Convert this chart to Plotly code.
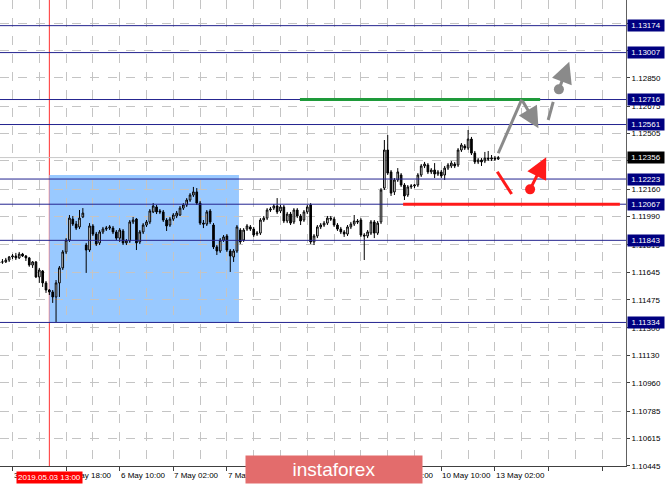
import plotly.graph_objects as go

# ---------------- data (EURUSD H1, hour index 0 = 3 May 02:00) ----------------
first_index = -4
opens = [
    1.11703, 1.11709, 1.11709, 1.11721, 1.11740, 1.11746, 1.11734, 1.11758, 1.11746, 1.11734,
    1.11690, 1.11709, 1.11616, 1.11653, 1.11579, 1.11535, 1.11523, 1.11492, 1.11579, 1.11672,
    1.11771, 1.11845, 1.11975, 1.11944, 1.11926, 1.11988, 1.11814, 1.11783, 1.11932, 1.11882,
    1.11827, 1.11895, 1.11913, 1.11919, 1.11919, 1.11895, 1.11857, 1.11901, 1.11827, 1.11839,
    1.11957, 1.11975, 1.11833, 1.11895, 1.11938, 1.11957, 1.12019, 1.12050, 1.12025, 1.12019,
    1.11969, 1.11938, 1.11975, 1.11994, 1.12000, 1.12043, 1.12062, 1.12093, 1.12124, 1.12143,
    1.12074, 1.11950, 1.11944, 1.12025, 1.11938, 1.11802, 1.11777, 1.11845, 1.11870, 1.11777,
    1.11740, 1.11777, 1.11907, 1.11845, 1.11913, 1.11926, 1.11913, 1.11882, 1.11888, 1.11969,
    1.11981, 1.12031, 1.12043, 1.12056, 1.12025, 1.12050, 1.11963, 1.12006, 1.11957, 1.12031,
    1.11994, 1.11969, 1.12019, 1.12062, 1.11833, 1.11870, 1.11926, 1.11938, 1.11950, 1.11981,
    1.11975, 1.11938, 1.11913, 1.11895, 1.11882, 1.11926, 1.11944, 1.11963, 1.11969, 1.11876,
    1.11870, 1.11888, 1.11957, 1.11888, 1.11957, 1.12167, 1.12403, 1.12267, 1.12143, 1.12217,
    1.12248, 1.12186, 1.12124, 1.12174, 1.12180, 1.12186, 1.12248, 1.12304, 1.12310, 1.12267,
    1.12279, 1.12254, 1.12267, 1.12248, 1.12291, 1.12304, 1.12316, 1.12310, 1.12403, 1.12428,
    1.12415, 1.12471, 1.12384, 1.12329, 1.12341, 1.12335, 1.12353, 1.12347, 1.12353, 1.12347,
]
highs = [
    1.11721, 1.11727, 1.11734, 1.11746, 1.11758, 1.11765, 1.11771, 1.11765, 1.11752, 1.11740,
    1.11715, 1.11715, 1.11672, 1.11659, 1.11591, 1.11541, 1.11535, 1.11597, 1.11684, 1.11783,
    1.11857, 1.12000, 1.11994, 1.11963, 1.12031, 1.12043, 1.11827, 1.11950, 1.11944, 1.11895,
    1.11907, 1.11926, 1.11932, 1.11938, 1.11932, 1.11907, 1.11919, 1.11913, 1.11851, 1.11969,
    1.11988, 1.11981, 1.11907, 1.11950, 1.11969, 1.12037, 1.12074, 1.12062, 1.12037, 1.12031,
    1.11981, 1.11988, 1.12012, 1.12025, 1.12056, 1.12074, 1.12105, 1.12136, 1.12174, 1.12167,
    1.12087, 1.11969, 1.12031, 1.12037, 1.11950, 1.11814, 1.11857, 1.11876, 1.11882, 1.11789,
    1.11789, 1.11938, 1.11919, 1.11919, 1.11944, 1.11938, 1.11926, 1.11901, 1.11981, 1.11994,
    1.12043, 1.12050, 1.12068, 1.12105, 1.12062, 1.12062, 1.12019, 1.12019, 1.12043, 1.12043,
    1.12006, 1.12031, 1.12062, 1.12074, 1.11882, 1.11938, 1.11950, 1.11963, 1.11994, 1.11994,
    1.11988, 1.11950, 1.11926, 1.11907, 1.11938, 1.11957, 1.12000, 1.11975, 1.11981, 1.11888,
    1.11907, 1.11969, 1.11969, 1.11963, 1.12167, 1.12465, 1.12496, 1.12279, 1.12229, 1.12291,
    1.12260, 1.12198, 1.12186, 1.12192, 1.12192, 1.12260, 1.12316, 1.12329, 1.12322, 1.12291,
    1.12322, 1.12279, 1.12279, 1.12304, 1.12322, 1.12335, 1.12329, 1.12415, 1.12446, 1.12440,
    1.12527, 1.12484, 1.12397, 1.12353, 1.12353, 1.12391, 1.12397, 1.12372, 1.12366, 1.12366,
]
lows = [
    1.11690, 1.11697, 1.11703, 1.11709, 1.11727, 1.11721, 1.11727, 1.11740, 1.11715, 1.11679,
    1.11672, 1.11609, 1.11579, 1.11554, 1.11517, 1.11504, 1.11455, 1.11337, 1.11492, 1.11659,
    1.11758, 1.11833, 1.11932, 1.11907, 1.11913, 1.11981, 1.11641, 1.11771, 1.11870, 1.11808,
    1.11814, 1.11882, 1.11901, 1.11907, 1.11882, 1.11845, 1.11833, 1.11814, 1.11814, 1.11827,
    1.11944, 1.11783, 1.11820, 1.11882, 1.11926, 1.11944, 1.12012, 1.12006, 1.12006, 1.11957,
    1.11901, 1.11926, 1.11963, 1.11981, 1.11994, 1.12031, 1.12050, 1.12081, 1.12112, 1.12062,
    1.11938, 1.11919, 1.11932, 1.11944, 1.11789, 1.11752, 1.11765, 1.11833, 1.11771, 1.11647,
    1.11709, 1.11765, 1.11820, 1.11833, 1.11901, 1.11901, 1.11864, 1.11870, 1.11876, 1.11957,
    1.11969, 1.12019, 1.12031, 1.12006, 1.12012, 1.11950, 1.11950, 1.11938, 1.11944, 1.11981,
    1.11938, 1.11957, 1.12006, 1.11820, 1.11814, 1.11857, 1.11913, 1.11926, 1.11938, 1.11963,
    1.11926, 1.11901, 1.11882, 1.11864, 1.11870, 1.11913, 1.11932, 1.11944, 1.11864, 1.11721,
    1.11857, 1.11876, 1.11857, 1.11876, 1.11944, 1.12155, 1.12248, 1.12118, 1.12124, 1.12205,
    1.12174, 1.12093, 1.12112, 1.12161, 1.12167, 1.12174, 1.12236, 1.12291, 1.12254, 1.12254,
    1.12229, 1.12242, 1.12229, 1.12217, 1.12279, 1.12291, 1.12291, 1.12298, 1.12391, 1.12403,
    1.12403, 1.12372, 1.12316, 1.12316, 1.12304, 1.12322, 1.12335, 1.12335, 1.12335, 1.12341,
]
closes = [
    1.11709, 1.11709, 1.11721, 1.11740, 1.11746, 1.11734, 1.11758, 1.11746, 1.11734, 1.11690,
    1.11709, 1.11616, 1.11659, 1.11579, 1.11535, 1.11523, 1.11492, 1.11579, 1.11672, 1.11771,
    1.11845, 1.11981, 1.11944, 1.11919, 1.11981, 1.12012, 1.11783, 1.11932, 1.11882, 1.11820,
    1.11895, 1.11913, 1.11919, 1.11926, 1.11895, 1.11857, 1.11907, 1.11827, 1.11839, 1.11957,
    1.11969, 1.11827, 1.11895, 1.11938, 1.11957, 1.12025, 1.12056, 1.12019, 1.12019, 1.11969,
    1.11932, 1.11975, 1.12000, 1.12012, 1.12043, 1.12062, 1.12093, 1.12124, 1.12143, 1.12074,
    1.11950, 1.11944, 1.12019, 1.11957, 1.11802, 1.11777, 1.11845, 1.11864, 1.11783, 1.11746,
    1.11777, 1.11926, 1.11833, 1.11907, 1.11932, 1.11913, 1.11876, 1.11888, 1.11969, 1.11981,
    1.12031, 1.12037, 1.12056, 1.12019, 1.12050, 1.11963, 1.12006, 1.11950, 1.12031, 1.11994,
    1.11963, 1.12019, 1.12050, 1.11833, 1.11870, 1.11926, 1.11938, 1.11950, 1.11981, 1.11975,
    1.11938, 1.11913, 1.11895, 1.11882, 1.11926, 1.11944, 1.11963, 1.11957, 1.11876, 1.11870,
    1.11895, 1.11957, 1.11888, 1.11950, 1.12155, 1.12403, 1.12260, 1.12136, 1.12217, 1.12267,
    1.12186, 1.12118, 1.12174, 1.12180, 1.12186, 1.12248, 1.12304, 1.12316, 1.12267, 1.12279,
    1.12254, 1.12267, 1.12242, 1.12291, 1.12310, 1.12322, 1.12304, 1.12403, 1.12434, 1.12415,
    1.12471, 1.12384, 1.12329, 1.12341, 1.12329, 1.12353, 1.12347, 1.12353, 1.12347, 1.12356,
]
hour_index = list(range(first_index, first_index + len(opens)))

time_label_pos = [0, 16, 32, 48, 64, 80, 96, 112, 128, 144]
time_labels = ["3 May 02:00", "3 May 18:00", "6 May 10:00", "7 May 02:00", "7 May 18:00",
               "8 May 10:00", "9 May 02:00", "9 May 18:00", "10 May 10:00", "13 May 02:00"]

price_ticks = [1.10445, 1.10615, 1.10785, 1.10960, 1.11130, 1.11300, 1.11475, 1.11645,
               1.11815, 1.11990, 1.12160, 1.12335, 1.12505, 1.12675, 1.12850, 1.13020, 1.13190]

levels = [1.13174, 1.13007, 1.12716, 1.12561, 1.12223, 1.12067, 1.11843, 1.11334]
current_price = 1.12356

marker_hour = 11
marker_label = "2019.05.03 13:00"
zone_hours = [11, 67.6]
zone_prices = [1.11334, 1.12248]
green_level = 1.12716
green_hours = [85.8, 157.5]
red_level = 1.12067
red_hours = [116.6, 181.3]

# forecast drawings (hour index, price)
gray_line_1 = [(145.0, 1.12383), (152.0, 1.12716)]
gray_arrow_1 = [(152.0, 1.12716), (157.0, 1.12538)]
gray_line_2 = [(159.9, 1.12589), (161.4, 1.12702)]
gray_dot = (163.1, 1.12779)
gray_arrow_2 = [(163.1, 1.12779), (166.2, 1.12950)]
red_line_1 = [(144.7, 1.12268), (149.0, 1.12130)]
red_dot = (154.5, 1.12159)
red_arrow = [(154.5, 1.12159), (159.3, 1.12358)]

x_range = [-3.73, 183.13]
y_range = [1.10444, 1.13333]

FONT = "Liberation Sans, Arial, sans-serif"
NAVY = "#000080"
GRID = "#c4c4c4"
GRAY = "#8a8a8a"
RED = "#ff1a1a"


def fmt(v):
    return f"{v:.5f}"


# tick labels fully covered by a level box in the reference are left blank
covered = {1.13190, 1.13020, 1.12335}
tick_text = ["" if v in covered else fmt(v) for v in price_ticks]

fig = go.Figure()
fig.add_trace(go.Candlestick(
    x=hour_index, open=opens, high=highs, low=lows, close=closes,
    increasing=dict(line=dict(color="black", width=1), fillcolor="white"),
    decreasing=dict(line=dict(color="black", width=1), fillcolor="black"),
    whiskerwidth=0, hoverinfo="skip", showlegend=False,
))

shapes = []
shapes.append(dict(type="rect", xref="x", yref="y", x0=zone_hours[0], x1=zone_hours[1],
                   y0=zone_prices[0], y1=zone_prices[1], fillcolor="#99c9ff",
                   line=dict(width=0), layer="below"))
shapes.append(dict(type="line", xref="x", yref="paper", x0=marker_hour, x1=marker_hour,
                   y0=0, y1=1, line=dict(color="#ff3030", width=1), layer="below"))
shapes.append(dict(type="line", xref="paper", yref="y", x0=0, x1=1, y0=current_price,
                   y1=current_price, line=dict(color="#c8c8c8", width=1), layer="below"))
for lv in levels:
    shapes.append(dict(type="line", xref="paper", yref="y", x0=0, x1=1, y0=lv, y1=lv,
                       line=dict(color="#23238f", width=1), layer="above"))
shapes.append(dict(type="line", xref="x", yref="y", x0=green_hours[0], x1=green_hours[1],
                   y0=green_level, y1=green_level, line=dict(color="#1e9a3a", width=3)))
shapes.append(dict(type="line", xref="x", yref="y", x0=red_hours[0], x1=red_hours[1],
                   y0=red_level, y1=red_level, line=dict(color=RED, width=3)))
for seg, col in [(gray_line_1, GRAY), (gray_line_2, GRAY), (red_line_1, RED)]:
    shapes.append(dict(type="line", xref="x", yref="y", x0=seg[0][0], y0=seg[0][1],
                       x1=seg[1][0], y1=seg[1][1], line=dict(color=col, width=3)))

fig.add_trace(go.Scatter(x=[gray_dot[0]], y=[gray_dot[1]], mode="markers",
                         marker=dict(color=GRAY, size=10), hoverinfo="skip", showlegend=False))
fig.add_trace(go.Scatter(x=[red_dot[0]], y=[red_dot[1]], mode="markers",
                         marker=dict(color=RED, size=10), hoverinfo="skip", showlegend=False))

annotations = []
for seg, col in [(gray_arrow_1, GRAY), (gray_arrow_2, GRAY), (red_arrow, RED)]:
    annotations.append(dict(x=seg[1][0], y=seg[1][1], ax=seg[0][0], ay=seg[0][1],
                            xref="x", yref="y", axref="x", ayref="y", text="",
                            showarrow=True, arrowhead=2, arrowsize=1.4, arrowwidth=3,
                            arrowcolor=col, standoff=0))
for pos, lab in zip(time_label_pos, time_labels):
    annotations.append(dict(x=pos, y=0, xref="x", yref="paper", xanchor="left",
                            yanchor="top", yshift=-3, xshift=-1, text=lab, showarrow=False,
                            font=dict(family=FONT, size=8, color="black")))
annotations.append(dict(x=marker_hour, y=0, xref="x", yref="paper", xanchor="center",
                        yanchor="top", yshift=-5, text=marker_label, showarrow=False,
                        bgcolor="#ff0000", borderpad=1,
                        font=dict(family=FONT, size=8, color="white")))
for lv in levels:
    annotations.append(dict(x=1, y=lv, xref="paper", yref="y", xanchor="left",
                            yanchor="middle", xshift=1, text=fmt(lv), showarrow=False,
                            bgcolor=NAVY, width=34, height=9, borderpad=1,
                            font=dict(family=FONT, size=8, color="white")))
annotations.append(dict(x=1, y=current_price, xref="paper", yref="y", xanchor="left",
                        yanchor="middle", xshift=1, text=fmt(current_price),
                        showarrow=False, bgcolor="black", width=34, height=9, borderpad=1,
                        font=dict(family=FONT, size=8, color="white")))
annotations.append(dict(x=0.5335, y=-0.0075, xref="paper", yref="paper", xanchor="center",
                        yanchor="middle", text="instaforex", showarrow=False,
                        bgcolor="#e36c6c", width=174, height=25, borderpad=1,
                        font=dict(family=FONT, size=19, color="white")))

fig.update_layout(
    template="none",
    width=665, height=486,
    margin=dict(l=0, r=39, t=0, b=20, pad=0, autoexpand=False),
    paper_bgcolor="white", plot_bgcolor="white",
    shapes=shapes, annotations=annotations,
    showlegend=False,
    xaxis=dict(range=x_range, rangeslider=dict(visible=False), automargin=False,
               showline=True, linecolor="#404040", linewidth=1, ticks="outside", ticklen=4,
               tickcolor="#404040", tickmode="linear", tick0=0, dtick=16,
               showticklabels=False, showgrid=True, gridcolor=GRID, griddash="dash",
               gridwidth=1, zeroline=False,
               minor=dict(tick0=0, dtick=8, showgrid=True, gridcolor=GRID,
                          griddash="dash", ticks="")),
    yaxis=dict(range=y_range, side="right", automargin=False, tickmode="array",
               tickvals=price_ticks, ticktext=tick_text, ticks="outside", ticklen=3,
               tickcolor="#404040", showline=True, linecolor="#606060", linewidth=1,
               showgrid=True, gridcolor=GRID, griddash="dash", gridwidth=1,
               zeroline=False, tickfont=dict(family=FONT, size=8, color="black")),
)

fig.write_html("out.html", config={"displayModeBar": False},
               post_script="document.body.style.margin='0';document.body.style.padding='0';")
